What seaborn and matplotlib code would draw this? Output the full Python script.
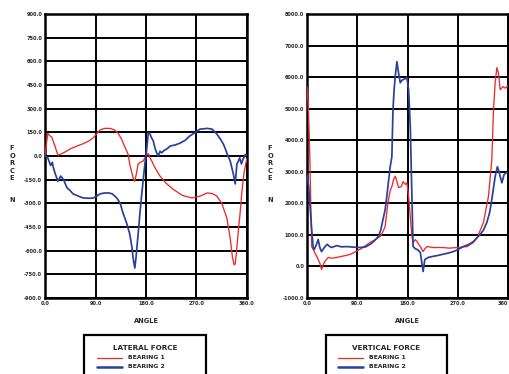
import matplotlib
matplotlib.use("Agg")
import matplotlib.pyplot as plt
import seaborn as sns
import pandas as pd
import numpy as np
from matplotlib.lines import Line2D
from matplotlib.patches import Rectangle

sns.set_style("white")
plt.rcParams['font.family'] = ['DejaVu Sans']

RED = "#ec2a2a"
BLUE = "#2b3f9c"

# ---- Lateral force (left) ----
lat_b1_angle = [0, 3, 5, 8, 12, 18, 23, 30, 38, 45, 55, 68, 78, 86, 92, 98, 106, 116, 124, 130, 136, 142, 148, 151,
                155, 158, 160, 163, 166, 170, 175, 180, 184, 187, 190, 196, 205, 215, 228, 245, 262, 276, 289, 298,
                306, 315, 324, 330, 334, 337, 339, 341, 344, 348, 351, 355, 360]
lat_b1_val = [0, 90, 145, 130, 120, 60, 5, 15, 30, 45, 60, 78, 95, 115, 140, 165, 175, 175, 165, 146, 110, 60, 12, -50,
              -110, -150, -160, -110, -50, -40, -32, 0, 15, -10, -30, -75, -127, -170, -210, -250, -266, -255, -234, -238,
              -253, -300, -392, -520, -640, -690, -684, -620, -494, -350, -222, -100, -12]
lat_b2_angle = [0, 3, 5, 10, 13, 15, 18, 23, 28, 33, 39, 45, 50, 60, 68, 78, 86, 92, 98, 105, 113, 120, 128, 134, 139,
                145, 151, 155, 157, 160, 162, 166, 170, 173, 178, 181, 184, 187, 190, 193, 196, 199, 202, 205, 208, 212,
                217, 223, 232, 241, 250, 258, 266, 276, 282, 289, 298, 306, 312, 318, 322, 326, 330, 333, 336, 339, 342,
                345, 347, 350, 353, 357, 360]
lat_b2_val = [0, -5, -12, -60, -40, -75, -110, -160, -127, -150, -200, -220, -240, -255, -266, -268, -266, -255, -240, -235,
              -234, -240, -266, -300, -361, -420, -494, -580, -646, -710, -650, -494, -330, -222, -50, 32, 146, 140, 115,
              95, 50, 20, 0, 30, 20, 35, 44, 63, 70, 82, 100, 127, 145, 170, 172, 175, 170, 140, 110, 75, 40, 0, -30, -75,
              -120, -177, -50, -30, -12, -50, -20, 10, 0]

# ---- Vertical force (right) ----
ver_b1_angle = [0, 2, 4, 5, 6.6, 8.4, 11, 15, 20, 23, 26, 29, 32, 38, 45, 53, 65, 77, 95, 113, 125, 131, 136, 140, 145,
                149, 152, 155, 158, 161, 164, 169, 172, 176, 179, 182, 185, 188, 190, 194, 197, 200, 203, 208, 211, 215,
                226, 242, 255, 269, 287, 298, 305, 316, 325, 331, 334, 337, 340, 343, 346, 351, 355, 360]
ver_b1_val = [5690, 5200, 4200, 3480, 2120, 630, 540, 400, 220, 100, -95, 50, 160, 285, 260, 285, 330, 380, 540, 760, 880,
              950, 1100, 1270, 2020, 2400, 2530, 2750, 2860, 2700, 2500, 2530, 2690, 2600, 2650, 2220, 1580, 950, 760,
              850, 790, 700, 630, 470, 560, 630, 600, 600, 580, 600, 630, 760, 920, 1390, 2220, 3380, 4970, 5820, 6300,
              6130, 5600, 5700, 5650, 5730]
ver_b2_angle = [0, 3, 5, 8, 11, 13, 17, 20, 23, 26, 31, 36, 40, 44, 53, 62, 71, 85, 95, 105, 113, 120, 128, 132, 136, 140,
                143, 146, 149, 152, 154, 156, 158, 161, 164, 167, 170, 172, 176, 179, 182, 185, 188, 190, 194, 197, 200,
                203, 206, 208, 211, 217, 226, 235, 242, 252, 262, 270, 280, 290, 298, 310, 316, 322, 327, 331, 337, 341,
                344, 346, 349, 353, 356, 360]
ver_b2_val = [2910, 2530, 2020, 1270, 600, 540, 700, 855, 600, 470, 600, 700, 640, 600, 660, 620, 630, 610, 600, 620, 700,
              800, 950, 1150, 1480, 1800, 2220, 2700, 3160, 3480, 4970, 5600, 6010, 6490, 6130, 5820, 5900, 5920, 5950,
              5980, 5600, 4430, 2120, 630, 560, 540, 500, 440, 80, -160, 220, 285, 320, 350, 380, 420, 470, 530, 630,
              700, 790, 1010, 1150, 1390, 1700, 2120, 2850, 3160, 3000, 2850, 2650, 2910, 2960, 2970]

lat_yticks = [-900, -750, -600, -450, -300, -150, 0, 150, 300, 450, 600, 750, 900]
ver_yticks = [-1000, 0, 1000, 2000, 3000, 4000, 5000, 6000, 7000, 8000]
xticks = [0, 90, 180, 270, 360]
xtick_labels_left = ["0.0", "90.0", "180.0", "270.0", "360.0"]
xtick_labels_right = ["0.0", "90.0", "180.0", "270.0", "360"]

lat_df = pd.concat([
    pd.DataFrame({"angle": lat_b1_angle, "force": lat_b1_val, "series": "BEARING 1"}),
    pd.DataFrame({"angle": lat_b2_angle, "force": lat_b2_val, "series": "BEARING 2"}),
])
ver_df = pd.concat([
    pd.DataFrame({"angle": ver_b1_angle, "force": ver_b1_val, "series": "BEARING 1"}),
    pd.DataFrame({"angle": ver_b2_angle, "force": ver_b2_val, "series": "BEARING 2"}),
])

W, H = 509, 374
fig = plt.figure(figsize=(W / 100, H / 100), dpi=100)

def px_axes(x0, y0, x1, y1):
    return fig.add_axes([x0 / W, 1 - y1 / H, (x1 - x0) / W, (y1 - y0) / H])

axL = px_axes(45, 14, 247, 298)
axR = px_axes(307, 14, 508, 298)

def style(ax, yticks, xlabels):
    ax.set_xlim(0, 360)
    ax.set_ylim(yticks[0], yticks[-1])
    ax.set_xticks(xticks)
    ax.set_xticklabels(xlabels, fontsize=3.6, fontweight="bold")
    ax.set_yticks(yticks)
    ax.set_yticklabels([f"{v:.1f}" for v in yticks], fontsize=3.6, fontweight="bold")
    ax.tick_params(length=0, pad=2)
    ax.grid(True, color="black", lw=1.4)
    ax.set_axisbelow(True)
    for s in ax.spines.values():
        s.set_color("black")
        s.set_linewidth(1.8)
    ax.set_xlabel("")
    ax.set_ylabel("")

palette = {"BEARING 1": RED, "BEARING 2": BLUE}
for ax, df in [(axL, lat_df), (axR, ver_df)]:
    sns.lineplot(data=df, x="angle", y="force", hue="series", palette=palette, sort=False,
                 estimator=None, ax=ax, legend=False, lw=1.0)
    for line, lw in zip(ax.get_lines(), [0.95, 1.25]):
        line.set_linewidth(lw)
        line.set_zorder(3)

style(axL, lat_yticks, xtick_labels_left)
style(axR, ver_yticks, xtick_labels_right)
# keep the last right-hand tick label inside the picture
axR.get_xticklabels()[-1].set_horizontalalignment("right")

# y labels (stacked letters) and x labels
for xp in [12, 270]:
    for i, ch in enumerate("FORCE"):
        fig.text(xp / W, 1 - (148 + i * 7.6) / H, ch, fontsize=4.8, fontweight="bold",
                 ha="center", va="center")
    fig.text(xp / W, 1 - 200 / H, "N", fontsize=4.8, fontweight="bold", ha="center", va="center")
for xc in [146, 407]:
    fig.text(xc / W, 1 - 321 / H, "ANGLE", fontsize=4.8, fontweight="bold", ha="center", va="center")

# legend boxes
def legend_box(x0, x1, title, lx0, lx1, tx):
    rect = Rectangle((x0 / W, 0 / H - 0.02), (x1 - x0) / W, (H - 335) / H + 0.02, transform=fig.transFigure,
                     fill=False, edgecolor="black", lw=1.6, clip_on=False)
    fig.patches.append(rect)
    fig.text((x0 + x1) / 2 / W, 1 - 348 / H, title, fontsize=5.2, fontweight="bold", ha="center", va="center")
    fig.lines.append(Line2D([lx0 / W, lx1 / W], [1 - 358 / H] * 2, transform=fig.transFigure, color=RED, lw=0.9))
    fig.lines.append(Line2D([lx0 / W, lx1 / W], [1 - 366.5 / H] * 2, transform=fig.transFigure, color=BLUE, lw=1.8))
    fig.text(tx / W, 1 - 357.5 / H, "BEARING 1", fontsize=4.4, fontweight="bold", ha="left", va="center")
    fig.text(tx / W, 1 - 366 / H, "BEARING 2", fontsize=4.4, fontweight="bold", ha="left", va="center")

legend_box(84, 206, "LATERAL FORCE", 97, 122, 128)
legend_box(326, 447, "VERTICAL FORCE", 338, 363, 369)

fig.savefig("out.png", dpi=100)
